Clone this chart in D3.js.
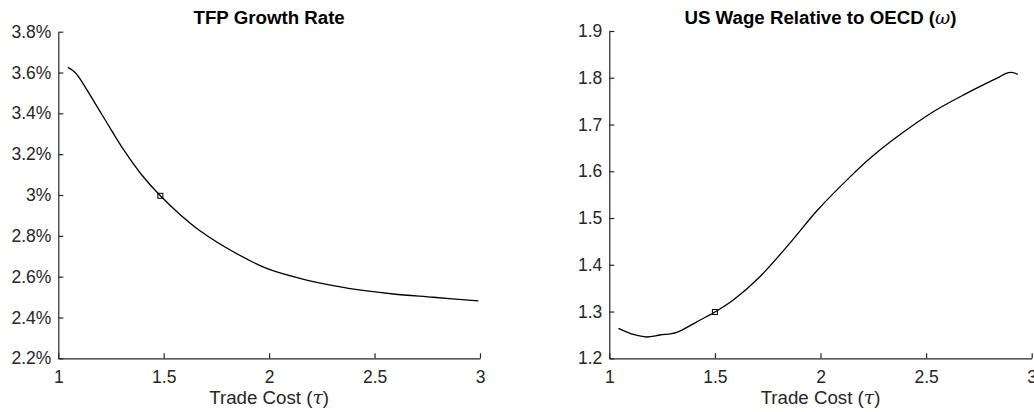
<!DOCTYPE html>
<html>
<head>
<meta charset="utf-8">
<script src="https://cdn.jsdelivr.net/npm/d3@7"></script>
<style>
  body { margin: 0; background: #fff; }
  svg { display: block; font-family: "Liberation Sans", Arial, sans-serif; }
  .axis path, .axis line { stroke: #262626; stroke-width: 1.2px; }
  .axis text { fill: #262626; font-size: 17.5px; }
</style>
</head>
<body>
<div id="chart"></div>
<script>
// trade cost grid and results
var tfpTau = [1.045, 1.08, 1.127, 1.174, 1.221, 1.316, 1.396, 1.484, 1.577, 1.672, 1.83, 1.988, 2.146, 2.304, 2.463, 2.589, 2.779, 2.992];
var tfpRate = [3.625, 3.60, 3.53, 3.45, 3.37, 3.212, 3.098, 2.996, 2.905, 2.825, 2.722, 2.641, 2.592, 2.556, 2.530, 2.515, 2.499, 2.481];
var wageTau = [1.043, 1.114, 1.177, 1.24, 1.319, 1.414, 1.5, 1.587, 1.713, 1.871, 1.982, 2.14, 2.24, 2.345, 2.534, 2.692, 2.834, 2.889, 2.913, 2.934];
var wageRatio = [1.264, 1.251, 1.2456, 1.2498, 1.2556, 1.278, 1.299, 1.3247, 1.3745, 1.455, 1.515, 1.588, 1.630, 1.668, 1.7274, 1.7667, 1.7988, 1.8108, 1.811, 1.807];

// calibrated point (square marker)
var tfpMark = [1.484, 2.996];
var wageMark = [1.5, 1.299];

var xTicks = [1, 1.5, 2, 2.5, 3];
var tfpTicks = [2.2, 2.4, 2.6, 2.8, 3.0, 3.2, 3.4, 3.6, 3.8];
var wageTicks = [1.2, 1.3, 1.4, 1.5, 1.6, 1.7, 1.8, 1.9];

var W = 1034, H = 412;
var svg = d3.select("#chart").append("svg").attr("width", W).attr("height", H);

function panel(cfg) {
  var x = d3.scaleLinear().domain([1, 3]).range([cfg.x0, cfg.x1]);
  var y = d3.scaleLinear().domain(cfg.yDom).range([358.3, cfg.yTop]);
  var g = svg.append("g");

  g.append("g").attr("class", "axis")
    .attr("transform", "translate(0,358.3)")
    .call(d3.axisBottom(x).tickValues(xTicks).tickSizeInner(-5).tickSizeOuter(0).tickPadding(12).tickFormat(function(d){ return String(d); }))
    .call(function(s){ s.selectAll("text").attr("dy", "0.71em"); });

  g.append("g").attr("class", "axis")
    .attr("transform", "translate(" + cfg.x0 + ",0)")
    .call(d3.axisLeft(y).tickValues(cfg.yTicks).tickSizeInner(-5).tickSizeOuter(0).tickPadding(7).tickFormat(cfg.fmt));

  g.selectAll(".axis .domain").attr("fill", "none");

  var pts = cfg.tau.map(function(t, i){ return [t, cfg.val[i]]; });
  var line = d3.line()
    .x(function(d){ return x(d[0]); })
    .y(function(d){ return y(d[1]); })
    .curve(d3.curveCatmullRom.alpha(0.5));
  g.append("path").datum(pts)
    .attr("d", line)
    .attr("fill", "none")
    .attr("stroke", "#000")
    .attr("stroke-width", 1.3);

  g.append("rect")
    .attr("x", x(cfg.mark[0]) - 2.5).attr("y", y(cfg.mark[1]) - 2.5)
    .attr("width", 5).attr("height", 5)
    .attr("fill", "none").attr("stroke", "#000").attr("stroke-width", 1);

  var t = g.append("text")
    .attr("x", (cfg.x0 + cfg.x1) / 2).attr("y", 24)
    .attr("text-anchor", "middle")
    .style("font-size", "18.7px").style("font-weight", "bold").style("fill", "#000");
  t.append("tspan").text(cfg.title);
  if (cfg.titleSym) {
    t.append("tspan").text("(");
    t.append("tspan").text(cfg.titleSym).style("font-style", "italic").style("font-weight", "normal").style("font-family", "'DejaVu Serif', serif");
    t.append("tspan").text(")");
  }

  var xl = g.append("text")
    .attr("x", (cfg.x0 + cfg.x1) / 2).attr("y", 404)
    .attr("text-anchor", "middle")
    .style("font-size", "18.7px").style("fill", "#262626");
  xl.append("tspan").text("Trade Cost (");
  xl.append("tspan").text("τ").style("font-style", "italic").style("font-family", "'DejaVu Serif', serif");
  xl.append("tspan").text(")");
}

panel({
  x0: 58.3, x1: 480, yTop: 31.7, yDom: [2.2, 3.8], yTicks: tfpTicks,
  fmt: function(d){ return String(+d.toFixed(1)) + "%"; },
  tau: tfpTau, val: tfpRate, mark: tfpMark, title: "TFP Growth Rate"
});

panel({
  x0: 609.3, x1: 1031.7, yTop: 31, yDom: [1.2, 1.9], yTicks: wageTicks,
  fmt: function(d){ return String(+d.toFixed(1)); },
  tau: wageTau, val: wageRatio, mark: wageMark, title: "US Wage Relative to OECD ", titleSym: "ω"
});
</script>
</body>
</html>
